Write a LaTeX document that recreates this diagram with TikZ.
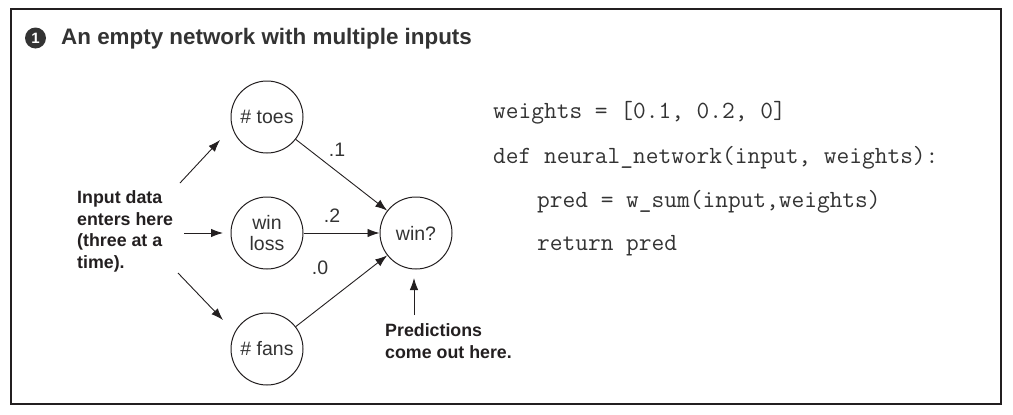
\documentclass[tikz,border=0pt]{standalone}
\usepackage{fontspec}
\setmainfont{Liberation Sans}
\usetikzlibrary{arrows.meta}
\definecolor{ink}{HTML}{231F20}
\definecolor{txt}{HTML}{333333}
\tikzset{
  neuron/.style={circle, draw=ink, line width=1pt, minimum size=72pt, inner sep=0pt, align=center, text=txt, font=\fontsize{19.5}{22}\selectfont},
  arr/.style={draw=ink, line width=0.9pt, -{Latex[length=12pt,width=8.5pt]}},
  wlabel/.style={text=txt, font=\fontsize{19.5}{22}\selectfont, inner sep=0pt},
  note/.style={text=ink, font=\bfseries\fontsize{17.8}{21.5}\selectfont, align=left, inner sep=0pt},
  codeline/.style={anchor=base west, inner sep=0pt, text=txt, font=\ttfamily\fontsize{24.7}{26}\selectfont},
}
\begin{document}
\begin{tikzpicture}[x=1pt,y=-1pt]
\useasboundingbox (0,0) rectangle (1013,415);
\draw[ink, line width=1.5pt] (11,9) rectangle (1001,404);
% title
\node[circle, fill=txt, minimum size=21pt, inner sep=0pt, text=white, font=\bfseries\fontsize{15}{15}\selectfont] (num) at (35.5,38) {1};
\node[anchor=base west, inner sep=0pt, text=txt, font=\bfseries\fontsize{22.4}{26}\selectfont] (title) at (61,45) {An empty network with multiple inputs};
% neurons
\node[neuron] (toes) at (267,117) {\# toes};
\node[neuron] (wl) at (267,233) {win\\[-1pt]loss};
\node[neuron] (fans) at (267,349) {\# fans};
\node[neuron] (win) at (416,233) {win?};
% edges
\draw[arr] (toes) -- (win);
\draw[arr] (wl) -- (win);
\draw[arr] (fans) -- (win);
\node[wlabel] (w1) at (337,150) {.1};
\node[wlabel] (w2) at (332,216) {.2};
\node[wlabel] (w3) at (320,268) {.0};
% input note
\node[note, anchor=west] (innote) at (77,231.5) {Input data\\enters here\\(three at a\\time).};
\coordinate (t1) at (180,183); \coordinate (h1) at (220,140);
\coordinate (t2) at (184,233); \coordinate (h2) at (223,233);
\coordinate (t3) at (178,273); \coordinate (h3) at (223,320);
\draw[arr] (t1) -- (h1);
\draw[arr] (t2) -- (h2);
\draw[arr] (t3) -- (h3);
% predictions
\node[note, anchor=west] (prednote) at (385,341) {Predictions\\come out here.};
\coordinate (pt) at (414,315); \coordinate (ph) at (414,278);
\draw[arr] (pt) -- (ph);
% code
\node[codeline] (c1) at (493,118) {weights = [0.1, 0.2, 0]};
\node[codeline] (c2) at (493,163) {def neural\_network(input, weights):};
\node[codeline] (c3) at (537,207) {pred = w\_sum(input,weights)};
\node[codeline] (c4) at (537,250) {return pred};
\end{tikzpicture}
\end{document}
